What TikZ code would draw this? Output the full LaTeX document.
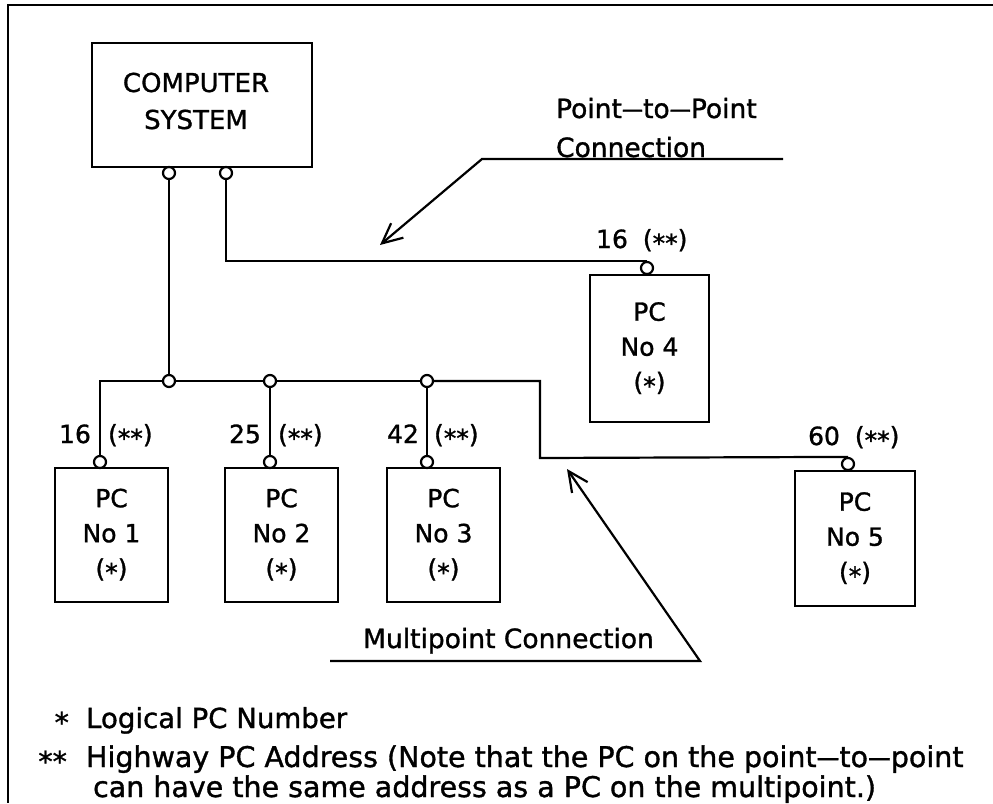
\documentclass[tikz,border=0pt]{standalone}
\usepackage{fontspec}
\setmainfont{DejaVu Sans}[BoldFont=DejaVu Sans,BoldFeatures={FakeBold=1.2}]
\usetikzlibrary{arrows.meta}
\newcommand{\lowstar}{\raisebox{-0.3ex}{*}}
\newcommand{\ldash}{\scalebox{0.8}[1]{—}}
\begin{document}
\begin{tikzpicture}[x=1pt,y=-1pt,line width=2.2pt,
  pcbox/.style={draw,rectangle,inner sep=0pt,align=center,font=\fontsize{25}{35}\selectfont\bfseries},
  port/.style={draw,circle,fill=white,minimum size=12pt,inner sep=0pt},
  lbl/.style={inner sep=0pt,font=\fontsize{25}{30}\selectfont\bfseries},
  ann/.style={inner sep=0pt,font=\fontsize{26.5}{30}\selectfont\bfseries},
  note/.style={inner sep=0pt,font=\fontsize{28.5}{30}\selectfont\bfseries},
  barb/.style={-{Straight Barb[length=20pt,width=19pt]}}]
\useasboundingbox (0,0) rectangle (993,803);
% frame
\draw[line width=2.6pt] (993,5) -- (8,5) -- (8,803);
% computer system
\node[draw,rectangle,inner sep=0pt,minimum width=220pt,minimum height=124pt] (cs) at (202,105) {};
\node[inner sep=0pt,align=center,font=\fontsize{26}{37}\selectfont\bfseries] (cstext) at (196,101) {COMPUTER\\SYSTEM};
\node[port] (s1) at (169,173) {};
\node[port] (s2) at (226,173) {};
% PCs
\node[pcbox,minimum width=113pt,minimum height=134pt] (pc1) at (111.5,535) {PC\\No 1\\(\lowstar)};
\node[pcbox,minimum width=113pt,minimum height=134pt] (pc2) at (281.5,535) {PC\\No 2\\(\lowstar)};
\node[pcbox,minimum width=113pt,minimum height=134pt] (pc3) at (443.5,535) {PC\\No 3\\(\lowstar)};
\node[pcbox,minimum width=119pt,minimum height=147pt] (pc4) at (649.5,348.5) {PC\\No 4\\(\lowstar)};
\node[pcbox,minimum width=120pt,minimum height=135pt] (pc5) at (855,538.5) {PC\\No 5\\(\lowstar)};
% ports on PCs
\node[port] (c1) at (100,462) {};
\node[port] (c2) at (270,462) {};
\node[port] (c3) at (427,462) {};
\node[port] (c4) at (647,268) {};
\node[port] (c5) at (848,464) {};
% bus junctions
\node[port] (j1) at (169,381) {};
\node[port] (j2) at (270,381) {};
\node[port] (j3) at (427,381) {};
\coordinate (bend) at (540,458);
% connections
\draw (s1.south) -- (j1.north);
\draw (c1.north) |- (j1.west);
\draw (j1.east) -- (j2.west);
\draw (j2.east) -- (j3.west);
\draw (j3.east) -| (bend) -- (c5.north);
\draw (j2.south) -- (c2.north);
\draw (j3.south) -- (c3.north);
\draw (s2.south) |- (c4.north);
% address labels
\node[lbl,anchor=base east] (a1) at (92,443) {16};
\node[lbl,anchor=base west] (b1) at (107,443) {(\lowstar\lowstar)};
\node[lbl,anchor=base east] (a2) at (262,443) {25};
\node[lbl,anchor=base west] (b2) at (277,443) {(\lowstar\lowstar)};
\node[lbl,anchor=base east] (a3) at (420,443) {42};
\node[lbl,anchor=base west] (b3) at (433,443) {(\lowstar\lowstar)};
\node[lbl,anchor=base west] (a4) at (595,248) {16\hspace{0.6em}(\lowstar\lowstar)};
\node[lbl,anchor=base west] (a5) at (807,445) {60\hspace{0.6em}(\lowstar\lowstar)};
% point-to-point annotation
\node[ann,anchor=base west] (p2pa) at (555,118) {Point\ldash to\ldash Point};
\node[ann,anchor=base west] (p2pb) at (555,157) {Connection};
\coordinate (p2pend) at (783,159);
\coordinate (p2pknee) at (482,159);
\coordinate (p2ptip) at (380,245);
\draw[barb] (p2pend) -- (p2pknee) -- (p2ptip);
% multipoint annotation
\node[ann,anchor=base west] (mpt) at (362,648) {Multipoint Connection};
\coordinate (mpstart) at (330,661);
\coordinate (mpknee) at (700,661);
\coordinate (mptip) at (567,469);
\draw[barb] (mpstart) -- (mpknee) -- (mptip);
% notes
\node[note,anchor=base east] (n1s) at (70,728) {\lowstar};
\node[note,anchor=base west,font=\fontsize{27.6}{30}\selectfont\bfseries] (n1) at (85,728) {Logical PC Number};
\node[note,anchor=base east] (n2s) at (68,767) {\lowstar\lowstar};
\node[note,anchor=base west] (n2) at (85,767) {Highway PC Address (Note that the PC on the point\ldash to\ldash point};
\node[note,anchor=base west] (n3) at (92,797) {can have the same address as a PC on the multipoint.)};
\end{tikzpicture}
\end{document}
